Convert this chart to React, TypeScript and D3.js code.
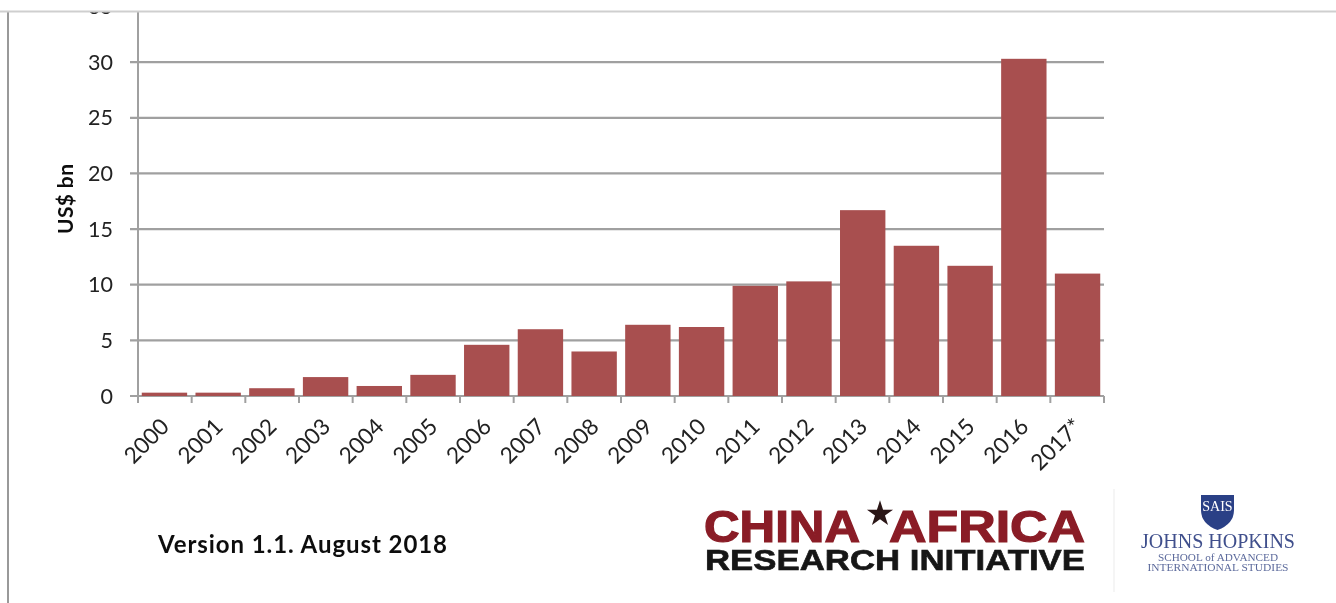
import React from "react";
import * as d3 from "d3";

const years = ["2000","2001","2002","2003","2004","2005","2006","2007","2008","2009","2010","2011","2012","2013","2014","2015","2016","2017*"];
const loans = [0.3,0.3,0.7,1.7,0.9,1.9,4.6,6.0,4.0,6.4,6.2,9.9,10.3,16.7,13.5,11.7,30.3,11.0];
const yTicks = [0,5,10,15,20,25,30,35];
const yTitle = "US$ bn";
const versionNote = "Version 1.1. August 2018";

const W = 1336, H = 603;
const FONT = "Lato, 'Open Sans', sans-serif";
const AXIS = "#a0a0a0";

export default function App() {
  const x = d3.scaleBand<string>().domain(years).range([138, 1104]).paddingInner(0.155).paddingOuter(0.07);
  const step = (1104 - 138) / years.length;
  const y = d3.scaleLinear().domain([0, 35]).range([396, 6.5]);
  const star = d3.symbol().type(d3.symbolStar).size(210)() as string;

  return (
    <svg width={W} height={H} viewBox={`0 0 ${W} ${H}`}
      style={{ position: "absolute", left: 0, top: 0, background: "#fff" }}>
      <defs>
        <filter id="soft" x="-5%" y="-5%" width="110%" height="110%">
          <feGaussianBlur stdDeviation="0.5" />
        </filter>
        <clipPath id="page"><rect x="0" y="12" width={W} height={H} /></clipPath>
      </defs>
      <g filter="url(#soft)">
        <g clipPath="url(#page)">
          {yTicks.map(t => (
            <g key={t}>
              <text x={113} y={y(t) + 7.5} textAnchor="end" fontFamily={FONT} fontSize={21.5} fill="#222">{t}</text>
              {t < 35 && <line x1={130} x2={1104} y1={y(t)} y2={y(t)} stroke={AXIS} strokeWidth={2.2} />}
            </g>
          ))}
          <line x1={138} x2={138} y1={12} y2={396} stroke={AXIS} strokeWidth={2} />
          <line x1={8} x2={8} y1={12} y2={H} stroke="#999" strokeWidth={2} />
        </g>
        <rect x={0} y={10.5} width={W} height={2} fill="#cfcfcf" />

        {years.map((yr, i) => (
          <rect key={yr} x={x(yr)} y={y(loans[i])} width={x.bandwidth()} height={396 - y(loans[i])} fill="#a85050" />
        ))}
        {d3.range(years.length + 1).map(i => (
          <line key={i} x1={138 + i * step} x2={138 + i * step} y1={396} y2={403} stroke={AXIS} strokeWidth={2} />
        ))}
        {years.map(yr => {
          const cx = (x(yr) as number) + x.bandwidth() / 2 + 2;
          return (
            <text key={yr} transform={`translate(${cx},424) rotate(-45)`} textAnchor="end"
              dominantBaseline="middle" fontFamily={FONT} fontSize={22.5} fill="#222">{yr}</text>
          );
        })}
        <text transform="translate(73,199) rotate(-90)" textAnchor="middle" fontFamily={FONT}
          fontSize={21} fontWeight={700} fill="#111" textLength={70} lengthAdjust="spacing">{yTitle}</text>

        <text x={158} y={553} textLength={289} lengthAdjust="spacing" fontFamily={FONT} fontSize={24}
          fontWeight={700} fill="#111">{versionNote}</text>

        <text x={704} y={542} textLength={156} lengthAdjust="spacingAndGlyphs" fontFamily="'Liberation Sans'"
          fontSize={44} fontWeight={700} fill="#8a1f27" stroke="#8a1f27" strokeWidth={1.2}>CHINA</text>
        <text x={889} y={542} textLength={196} lengthAdjust="spacingAndGlyphs" fontFamily="'Liberation Sans'"
          fontSize={44} fontWeight={700} fill="#8a1f27" stroke="#8a1f27" strokeWidth={1.2}>AFRICA</text>
        <path d={star} transform="translate(880,514)" fill="#2a1416" />
        <text x={705} y={570} textLength={380} lengthAdjust="spacingAndGlyphs" fontFamily="'Liberation Sans'"
          fontSize={29} fontWeight={700} fill="#151515" stroke="#151515" strokeWidth={0.6}>RESEARCH INITIATIVE</text>

        <line x1={1114} x2={1114} y1={489} y2={592} stroke="#f2f2f2" strokeWidth={1.5} />
        <path d="M1201,495 h33 v15 q0,14 -16.5,20 q-16.5,-6 -16.5,-20 z" fill="#2b3f86" />
        <text x={1217.5} y={511} textAnchor="middle" fontFamily="'Liberation Serif'" fontSize={14} fill="#fff">SAIS</text>
        <text x={1218} y={548} textAnchor="middle" textLength={154} lengthAdjust="spacingAndGlyphs"
          fontFamily="'Liberation Serif'" fontSize={21} fill="#3f4f8c">JOHNS HOPKINS</text>
        <text x={1218} y={561} textAnchor="middle" textLength={120} lengthAdjust="spacingAndGlyphs"
          fontFamily="'Liberation Serif'" fontSize={9.5} fill="#5c6a9c">SCHOOL of ADVANCED</text>
        <text x={1218} y={571} textAnchor="middle" textLength={141} lengthAdjust="spacingAndGlyphs"
          fontFamily="'Liberation Serif'" fontSize={9.5} fill="#5c6a9c">INTERNATIONAL STUDIES</text>
      </g>
    </svg>
  );
}
